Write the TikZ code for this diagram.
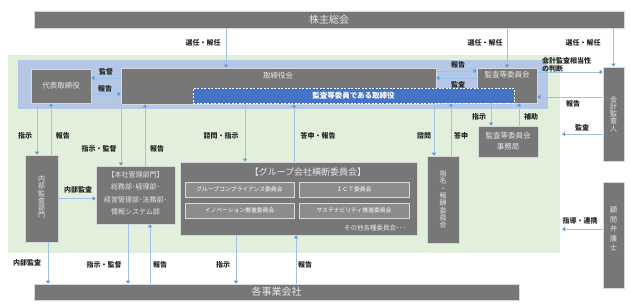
\documentclass[tikz,border=0pt]{standalone}
\usepackage{fontspec}
\setmainfont{Noto Sans CJK JP}
\usetikzlibrary{arrows.meta}
\definecolor{govGray}{HTML}{777777}
\definecolor{govInner}{HTML}{8C8C8C}
\definecolor{govEdge}{HTML}{D9D9D9}
\definecolor{govText}{HTML}{E8E8E8}
\definecolor{govInk}{HTML}{262626}
\definecolor{govGreen}{HTML}{E2EFDA}
\definecolor{govBand}{HTML}{B4C7E7}
\definecolor{govBlue}{HTML}{4472C4}
\definecolor{govLine}{HTML}{9DC3E6}
\definecolor{govTip}{HTML}{5B9BD5}
\tikzset{
  gov box/.style={draw=govEdge, fill=govGray, line width=0.6pt, inner sep=0pt},
  gov inner/.style={draw=govEdge, fill=govInner, line width=0.6pt, inner sep=0pt, minimum height=15pt, font=\fontsize{5.8}{7}\selectfont, text=white},
  gov text/.style={font=\fontsize{7.5}{9}\selectfont, text=govText, inner sep=0pt},
  gov big text/.style={font=\fontsize{10}{12}\selectfont, text=govText, inner sep=0pt},
  gov column/.style={font=\fontsize{7}{7.3}\selectfont, text=govText, align=center, inner sep=0pt},
  gov label/.style={font=\fontsize{7}{8}\selectfont\bfseries, text=govInk, inner sep=0pt},
  gov flow/.style={draw=govLine, line width=0.8pt, -{Triangle[width=4pt,length=3pt,color=govTip]}},
}

\begin{document}
\begin{tikzpicture}[x=1pt,y=-1pt]
  \useasboundingbox (0,0) rectangle (630,306);
  \fill[govGreen] (8,55) rectangle (560,253);
  \fill[govBand] (18,60) rectangle (548,109);

  \node[gov box, minimum width=590pt, minimum height=17pt] (share) at (329,19.5) {};
  \node[gov big text] (shareText) at (share) {株主総会};
  \node[gov box, minimum width=60pt, minimum height=34pt] (rep) at (61,86) {};
  \node[gov text] (repText) at (rep) {代表取締役};
  \node[gov box, minimum width=315pt, minimum height=36pt] (board) at (278.5,86) {};
  \node[gov text] (boardText) at (278,76) {取締役会};
  \node[gov box, minimum width=60pt, minimum height=35pt] (auditcomm) at (507,85.5) {};
  \node[gov text] (auditcommText) at (507,75) {監査等委員会};
  \node[draw=white, fill=govBlue, dash pattern=on 2pt off 1.5pt, line width=0.8pt, minimum width=321pt, minimum height=15pt, inner sep=0pt,
        font=\fontsize{7.5}{9}\selectfont\bfseries, text=white] (dir) at (353.5,95.5) {監査等委員である取締役};
  \node[gov box, minimum width=21pt, minimum height=94pt] (auditor) at (613.5,114) {};
  \node[gov column] (auditorText) at (auditor) {会\\計\\監\\査\\人};
  \node[gov box, minimum width=21pt, minimum height=106pt] (lawyer) at (613.5,235) {};
  \node[gov column, font=\fontsize{7}{9.6}\selectfont] (lawyerText) at (613.5,229) {顧\\問\\弁\\護\\士};
  \node[gov box, minimum width=33pt, minimum height=87pt] (internal) at (41.5,198.5) {};
  \node[gov column] (internalText) at (41.5,197) {内\\部\\監\\査\\部\\門};
  \node[gov box, minimum width=79pt, minimum height=58pt] (hq) at (135.5,195) {};
  \node[gov text, font=\fontsize{7}{12.5}\selectfont, align=center] (hqText) at (135.5,193.5)
    {【本社管理部門】\\総務部･経理部･\\経営管理部･法務部･\\情報システム部};
  \node[gov box, minimum width=237pt, minimum height=73pt] (group) at (298.5,198.5) {};
  \node[gov text, font=\fontsize{9}{11}\selectfont] (groupText) at (308,172) {【グループ会社横断委員会】};
  \node[gov inner, minimum width=109pt] (comp) at (239.5,189.5) {グループコンプライアンス委員会};
  \node[gov inner, minimum width=110pt] (ict) at (354,189.5) {ＩＣＴ委員会};
  \node[gov inner, minimum width=109pt] (inno) at (239.5,210.5) {イノベーション推進委員会};
  \node[gov inner, minimum width=110pt] (sust) at (354,210.5) {サステナビリティ推進委員会};
  \node[gov text, font=\fontsize{6.5}{8}\selectfont, anchor=east] (others) at (406,228) {その他各種委員会･･･};
  \node[gov box, minimum width=32pt, minimum height=87pt] (nom) at (443,199.5) {};
  \node[gov column] (nomText) at (nom) {指\\名\\・\\報\\酬\\委\\員\\会};
  \node[gov box, minimum width=60pt, minimum height=31pt] (sec) at (508,141.5) {};
  \node[gov text, font=\fontsize{7.5}{11}\selectfont, align=center] (secText) at (sec) {監査等委員会\\事務局};
  \node[gov box, minimum width=485pt, minimum height=16pt] (companies) at (276.5,292) {};
  \node[gov big text] (companiesText) at (companies) {各事業会社};

  \coordinate (auditIn) at (562,134);
  \coordinate (lawIn) at (562,229);

  \draw[gov flow] ([xshift=-52.5pt]board.north |- share.south) -- ([xshift=-52.5pt]board.north);
  \draw[gov flow] (auditcomm.north |- share.south) -- (auditcomm.north);
  \draw[gov flow] (auditor.north |- share.south) -- (auditor.north);
  \draw[gov flow] ([yshift=8pt]board.west) -- ([yshift=8pt]board.west -| rep.east);
  \draw[gov flow] ([yshift=-8pt]rep.east) -- ([yshift=-8pt]rep.east -| board.west);
  \draw[gov flow] ([yshift=15pt]board.east) -- ([yshift=15pt]board.east -| auditcomm.west);
  \draw[gov flow] ([yshift=8pt]board.east -| auditcomm.west) -- ([yshift=8pt]board.east);
  \draw[gov flow] ([yshift=13.5pt]auditcomm.east) -- ([yshift=13.5pt]auditcomm.east -| auditor.west);
  \draw[gov flow] ([yshift=17pt]auditor.west) -- ([yshift=17pt]auditor.west -| auditcomm.east);
  \draw[gov flow] ([yshift=-20pt]auditor.west) -- (auditIn);
  \draw[gov flow] ([yshift=6pt]lawyer.west) -- (lawIn);
  \draw[gov flow] ([xshift=-16pt]auditcomm.south) -- ([xshift=-16pt]auditcomm.south |- sec.north);
  \draw[gov flow] ([xshift=12pt]auditcomm.south |- sec.north) -- ([xshift=12pt]auditcomm.south);
  \draw[gov flow] ([xshift=-24pt]rep.south) -- ([xshift=-24pt]rep.south |- internal.north);
  \draw[gov flow] ([xshift=-10pt]rep.south |- internal.north) -- ([xshift=-10pt]rep.south);
  \draw[gov flow] ([xshift=-14.5pt]hq.north |- board.south) -- ([xshift=-14.5pt]hq.north);
  \draw[gov flow] ([xshift=9.5pt]hq.north) -- ([xshift=9.5pt]hq.north |- board.south);
  \draw[gov flow] ([xshift=-53.5pt]group.north |- board.south) -- ([xshift=-53.5pt]group.north);
  \draw[gov flow] ([xshift=-4.5pt]group.north) -- ([xshift=-4.5pt]group.north |- board.south);
  \draw[gov flow] ([xshift=-9pt]nom.north |- dir.south) -- ([xshift=-9pt]nom.north);
  \draw[gov flow] ([xshift=8pt]nom.north) -- ([xshift=8pt]nom.north |- dir.south);
  \draw[gov flow] (internal.east) -- (internal.east -| hq.west);
  \draw[gov flow] ([xshift=6.5pt]internal.south) -- ([xshift=6.5pt]internal.south |- companies.north);
  \draw[gov flow] ([xshift=-7.5pt]hq.south) -- ([xshift=-7.5pt]hq.south |- companies.north);
  \draw[gov flow] ([xshift=14.5pt]hq.south |- companies.north) -- ([xshift=14.5pt]hq.south);
  \draw[gov flow] ([xshift=-62.5pt]group.south) -- ([xshift=-62.5pt]group.south |- companies.north);
  \draw[gov flow] ([xshift=-2.5pt]group.south |- companies.north) -- ([xshift=-2.5pt]group.south);

  \node[gov label] (elect1) at (203,43) {選任・解任};
  \node[gov label] (elect2) at (485,43) {選任・解任};
  \node[gov label] (elect3) at (583,43) {選任・解任};
  \node[gov label] (superviseRep) at (106,72) {監督};
  \node[gov label] (reportRep) at (105,89) {報告};
  \node[gov label] (reportAudit) at (458,65) {報告};
  \node[gov label] (auditBoard) at (458,85) {監査};
  \node[gov label, align=left, anchor=west, font=\fontsize{7}{8}\selectfont\bfseries] (judge) at (542,65) {会計監査相当性\\の判断};
  \node[gov label] (reportAuditor) at (573,104) {報告};
  \node[gov label] (auditExt) at (582,128) {監査};
  \node[gov label] (guide) at (580,221) {指導・連携};
  \node[gov label] (orderSec) at (479,117) {指示};
  \node[gov label] (assist) at (531,117) {補助};
  \node[gov label] (orderInt) at (25,136) {指示};
  \node[gov label] (reportInt) at (63,136) {報告};
  \node[gov label] (orderHq) at (99,149) {指示・監督};
  \node[gov label] (reportHq) at (157,149) {報告};
  \node[gov label] (consultGroup) at (221,136) {諮問・指示};
  \node[gov label] (answerGroup) at (318,136) {答申・報告};
  \node[gov label] (consultNom) at (424,136) {諮問};
  \node[gov label] (answerNom) at (461,136) {答申};
  \node[gov label] (auditHq) at (78,190) {内部監査};
  \node[gov label] (auditCo) at (27,263) {内部監査};
  \node[gov label] (orderCo) at (104,265) {指示・監督};
  \node[gov label] (reportCo) at (160,265) {報告};
  \node[gov label] (orderGroupCo) at (223,265) {指示};
  \node[gov label] (reportGroupCo) at (305,265) {報告};
\end{tikzpicture}
\end{document}
